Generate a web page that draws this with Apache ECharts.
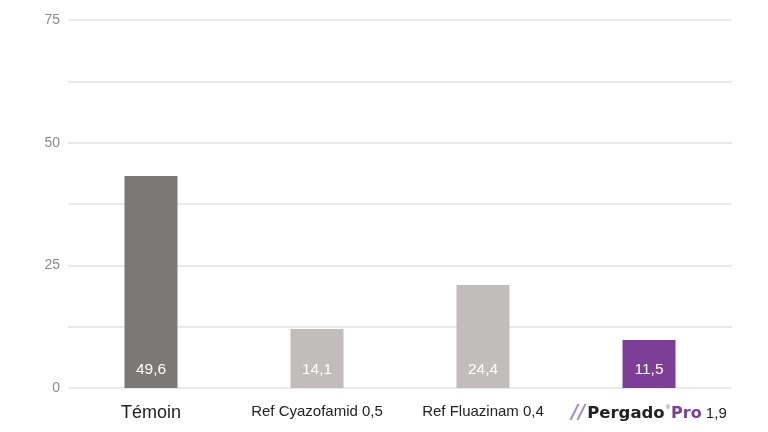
<!DOCTYPE html>
<html>
<head>
<meta charset="utf-8">
<script src="https://cdn.jsdelivr.net/npm/echarts@6/dist/echarts.min.js"></script>
<style>
  html, body { margin: 0; padding: 0; background: #fff; }
  #chart { width: 768px; height: 432px; }
</style>
</head>
<body>
<div id="chart"></div>
<script>
// catégories et valeurs
var categories = ['Témoin', 'Ref Cyazofamid 0,5', 'Ref Fluazinam 0,4', 'Pergado Pro 1,9'];
var barValues = [43.2, 12.0, 21.0, 9.8];          // hauteur des barres sur l'axe
var barLabels = ['49,6', '14,1', '24,4', '11,5']; // valeurs affichées dans les barres
var barColors = ['#7a7977', '#c1bdbc', '#c1bdbc', '#7d3e97'];
var yTicks = [0, 25, 50, 75];

var chart = echarts.init(document.getElementById('chart'));

var option = {
    backgroundColor: '#fff',
    animation: false,
    grid: { left: 68, right: 36, top: 20, bottom: 44 },
    xAxis: {
        type: 'category',
        data: categories,
        axisLine: { show: false },
        axisTick: { show: false },
        axisLabel: {
            margin: 16,
            interval: 0,
            color: '#222',
            fontFamily: 'Liberation Sans, Arial, sans-serif',
            fontSize: 15,
            formatter: function (val, idx) {
                if (idx === 0) return '{big|' + val + '}';
                if (idx === 3) return '{logo|//}{brand|Pergado}{deg|®}{pro|Pro}{num| 1,9}';
                return val;
            },
            rich: {
                big: { fontSize: 18, color: '#222', fontFamily: 'Liberation Sans, Arial, sans-serif' },
                logo: { fontSize: 19, color: '#a98bc4', fontWeight: 'bold', fontStyle: 'italic', fontFamily: 'DejaVu Sans', padding: [0, 2, 0, 0] },
                brand: { fontSize: 16.5, color: '#222', fontWeight: 'bold', fontFamily: 'DejaVu Sans' },
                deg: { fontSize: 6, color: '#7d3e97', verticalAlign: 'top', padding: [0, 1, 9, 1] },
                pro: { fontSize: 16, color: '#7d3e97', fontWeight: 'bold', fontFamily: 'DejaVu Sans' },
                num: { fontSize: 15, color: '#222', fontFamily: 'Liberation Sans, Arial, sans-serif' }
            }
        }
    },
    yAxis: {
        type: 'value',
        min: 0,
        max: 75,
        interval: 12.5,
        axisLine: { show: false },
        axisTick: { show: false },
        splitLine: { lineStyle: { color: '#e2e2e2', width: 1.5 } },
        axisLabel: {
            margin: 8,
            color: '#8a8a8a',
            fontFamily: 'Liberation Sans, Arial, sans-serif',
            fontSize: 14,
            formatter: function (v) {
                return yTicks.indexOf(v) >= 0 ? String(v) : '';
            }
        }
    },
    series: [{
        type: 'bar',
        barWidth: 53,
        data: barValues.map(function (v, i) {
            return { value: v, itemStyle: { color: barColors[i] } };
        }),
        label: {
            show: true,
            position: 'insideBottom',
            distance: 10,
            color: '#fff',
            fontSize: 15.5,
            fontFamily: 'Liberation Sans, Arial, sans-serif',
            formatter: function (p) { return barLabels[p.dataIndex]; }
        }
    }]
};

chart.setOption(option);
</script>
</body>
</html>
